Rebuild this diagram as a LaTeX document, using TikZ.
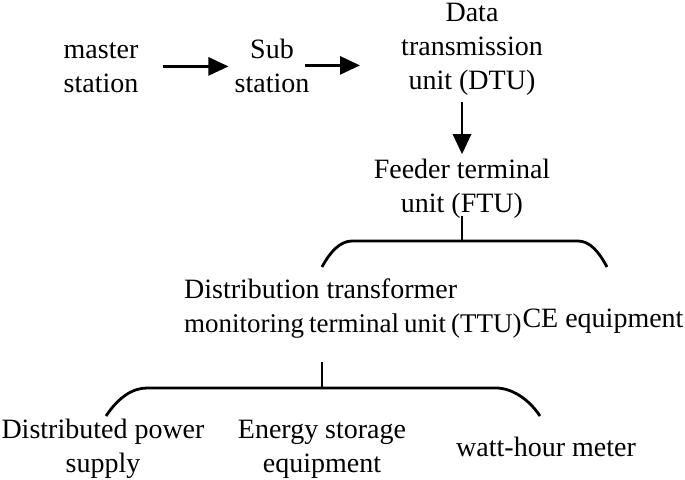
\documentclass[tikz,border=0pt]{standalone}
\usepackage{fontspec}
\setmainfont{Liberation Serif}
\usetikzlibrary{arrows.meta}
\tikzset{
  lbl/.style={font=\fontsize{28}{34}\selectfont, inner sep=0pt, align=center, anchor=north},
  arr/.style={line width=2.8pt, -{Triangle[length=20pt,width=18pt]}},
  bracel/.style={line width=2.8pt}
}
\begin{document}
\begin{tikzpicture}[x=1pt,y=-1pt]
\useasboundingbox (0,0) rectangle (685,479);
% nodes (anchor north: top = first baseline - 23.8)
\node[lbl] (master) at (101,34.2) {master\strut\\station\strut};
\node[lbl] (sub) at (272,34.2) {Sub\strut\\station\strut};
\node[lbl] (dtu) at (472,-2.8) {Data\strut\\transmission\strut\\unit (DTU)\strut};
\node[lbl] (ftu) at (462,154.2) {Feeder terminal\strut\\unit (FTU)\strut};
\node[lbl, align=left, anchor=north west] (ttu) at (184,274.2) {Distribution transformer\strut\\{\fontsize{27}{34}\selectfont\spaceskip=5pt plus 1pt monitoring terminal unit (TTU)}\strut};
\node[lbl, anchor=base] (ce) at (603,327) {CE equipment};
\node[lbl] (dps) at (103,414.2) {Distributed power\strut\\supply\strut};
\node[lbl] (esu) at (322,414.2) {Energy storage\strut\\equipment\strut};
\node[lbl, anchor=base] (whm) at (546,456) {watt-hour meter};
% arrows
\draw[arr, shorten <=24pt, shorten >=6pt] ([yshift=2pt]master.east) -- ([yshift=2pt]sub.west);
\draw[arr, shorten <=-5pt, shorten >=41pt] ([yshift=3pt]sub.east) -- ([yshift=3pt]sub.east -| dtu.west);
\draw[arr, shorten <=2pt] (dtu.south -| ftu.north) -- (ftu.north);
% brace 1
\coordinate (b1) at (463,241);
\draw[bracel] ([yshift=7pt]ftu.south) -- (ftu.south |- b1);
\draw[bracel] (322,267) .. controls (330,252) and (340,241) .. (352,241) -- (578,241) .. controls (590,241) and (599,252) .. (607,267);
% brace 2
\coordinate (b2) at (322,388);
\draw[bracel] (322,362) -- (b2);
\draw[bracel] (106,416) .. controls (118,398) and (132,388) .. (147,388) -- (496,388) .. controls (511,388) and (528,398) .. (540,416);
\end{tikzpicture}
\end{document}
